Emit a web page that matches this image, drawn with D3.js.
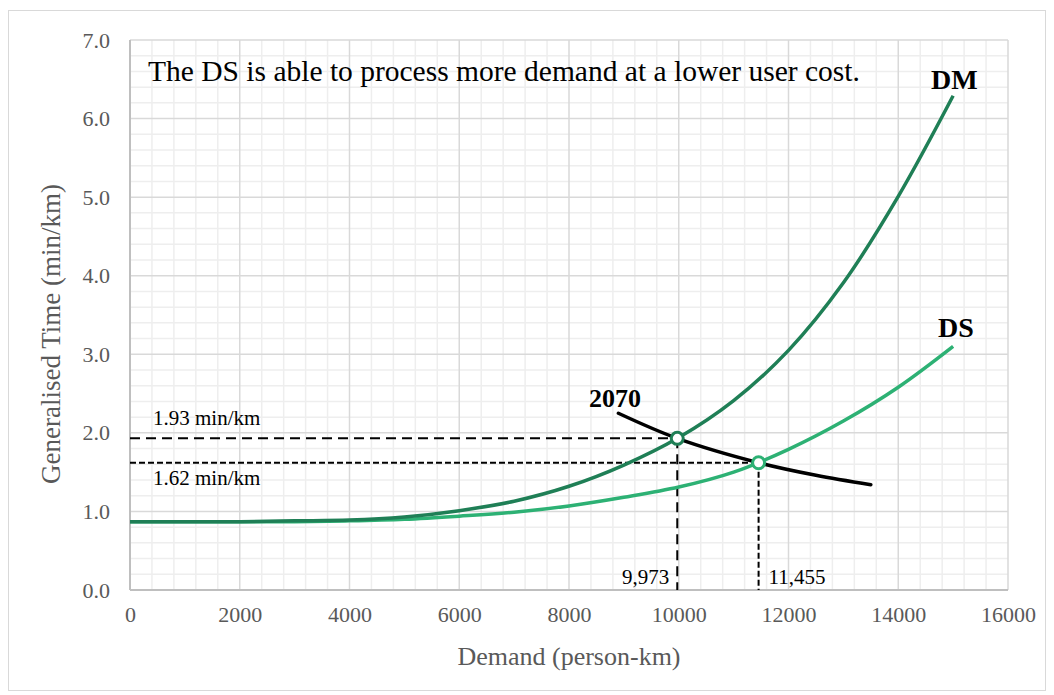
<!DOCTYPE html>
<html><head><meta charset="utf-8">
<script src="https://cdn.jsdelivr.net/npm/d3@7"></script>
<style>body{margin:0;background:#fff;}svg{display:block;font-family:"Liberation Serif","Times New Roman",serif;}</style>
</head><body><svg id="c" width="1054" height="695"></svg>
<script>
const demandX = [0,1000,2000,3000,4000,5000,6000,7000,8000,9000,10000,11000,12000,13000,14000,15000];
const dmValues = [0.87,0.87,0.87,0.88,0.89,0.93,1.01,1.13,1.32,1.59,1.94,2.41,3.05,3.91,5.01,6.29];
const dsValues = [0.87,0.87,0.87,0.87,0.88,0.90,0.94,0.99,1.07,1.18,1.31,1.50,1.79,2.15,2.58,3.10];
const demand2070X = [8900,9973,11455,12500,13500];
const demand2070Y = [2.25,1.93,1.62,1.46,1.34];
const eqDemand = [9973,11455];
const eqTime = [1.93,1.62];
const eqTimeLabels = ["1.93 min/km","1.62 min/km"];
const eqDemandLabels = ["9,973","11,455"];
const xTicks = [0,2000,4000,6000,8000,10000,12000,14000,16000];
const yTicks = [0,1,2,3,4,5,6,7];

const svg = d3.select("#c");
const L=130,R=1008,T=40,B=590;
const x = d3.scaleLinear().domain([0,16000]).range([L,R]);
const y = d3.scaleLinear().domain([0,7]).range([B,T]);

svg.append("rect").attr("x",8.5).attr("y",10.5).attr("width",1037).attr("height",680).attr("fill","#fff").attr("stroke","#d9d9d9");

const g = svg.append("g");
d3.range(0,16001,400).forEach(v=>{ if(v%2000) g.append("line").attr("x1",x(v)).attr("x2",x(v)).attr("y1",T).attr("y2",B).attr("stroke","#eeeeee").attr("stroke-width",1.5);});
d3.range(0,7.001,0.2).forEach(v=>{ if(Math.abs(v-Math.round(v))>0.01) g.append("line").attr("x1",L).attr("x2",R).attr("y1",y(v)).attr("y2",y(v)).attr("stroke","#eeeeee").attr("stroke-width",1.5);});
xTicks.forEach(v=>g.append("line").attr("x1",x(v)).attr("x2",x(v)).attr("y1",T).attr("y2",B).attr("stroke","#d9d9d9").attr("stroke-width",1.5));
yTicks.forEach(v=>g.append("line").attr("x1",L).attr("x2",R).attr("y1",y(v)).attr("y2",y(v)).attr("stroke","#d9d9d9").attr("stroke-width",1.5));
svg.append("line").attr("x1",L).attr("x2",R).attr("y1",B).attr("y2",B).attr("stroke","#bfbfbf").attr("stroke-width",2);
svg.append("line").attr("x1",L).attr("x2",L).attr("y1",T).attr("y2",B).attr("stroke","#bfbfbf").attr("stroke-width",2);

const xa = svg.append("g").attr("transform",`translate(0,${B})`).call(d3.axisBottom(x).tickValues(xTicks).tickFormat(d3.format("d")).tickSize(0).tickPadding(16));
xa.select(".domain").remove();
xa.selectAll("text").attr("font-family","Liberation Serif").attr("font-size",22).attr("fill","#595959");
const ya = svg.append("g").attr("transform",`translate(${L},0)`).call(d3.axisLeft(y).tickValues(yTicks).tickFormat(d3.format(".1f")).tickSize(0).tickPadding(20));
ya.select(".domain").remove();
ya.selectAll("text").attr("font-family","Liberation Serif").attr("font-size",22).attr("fill","#595959");

svg.append("text").attr("x",(L+R)/2).attr("y",665).attr("text-anchor","middle").attr("font-size",26).attr("fill","#595959").text("Demand (person-km)");
svg.append("text").attr("transform",`translate(60,334) rotate(-90)`).attr("text-anchor","middle").attr("font-size",27).attr("fill","#595959").text("Generalised Time (min/km)");

const dashes = ["10,6","6,3"];
eqDemand.forEach((d,i)=>{
  svg.append("line").attr("x1",x(0)).attr("x2",x(d)).attr("y1",y(eqTime[i])).attr("y2",y(eqTime[i])).attr("stroke","#000").attr("stroke-width",2).attr("stroke-dasharray",dashes[i]);
  svg.append("line").attr("x1",x(d)).attr("x2",x(d)).attr("y1",y(eqTime[i])).attr("y2",y(0)).attr("stroke","#000").attr("stroke-width",2).attr("stroke-dasharray",dashes[i]);
});

const line = d3.line().x(d=>x(d[0])).y(d=>y(d[1])).curve(d3.curveCatmullRom.alpha(0.5));
const DM="#1f7f56", DS="#2db174";
svg.append("path").attr("d",line(demandX.map((v,i)=>[v,dsValues[i]]))).attr("fill","none").attr("stroke",DS).attr("stroke-width",3.5);
svg.append("path").attr("d",line(demandX.map((v,i)=>[v,dmValues[i]]))).attr("fill","none").attr("stroke",DM).attr("stroke-width",3.5);
svg.append("path").attr("d",line(demand2070X.map((v,i)=>[v,demand2070Y[i]]))).attr("fill","none").attr("stroke","#000").attr("stroke-width",3.5).attr("stroke-linecap","round");

[DM,DS].forEach((c,i)=>{
  svg.append("circle").attr("cx",x(eqDemand[i])).attr("cy",y(eqTime[i])).attr("r",6).attr("fill","#fff").attr("stroke",c).attr("stroke-width",3);
});

svg.append("text").attr("x",153).attr("y",425).attr("font-size",21).attr("fill","#000").text(eqTimeLabels[0]);
svg.append("text").attr("x",153).attr("y",485).attr("font-size",21).attr("fill","#000").text(eqTimeLabels[1]);
svg.append("text").attr("x",x(eqDemand[0])-8).attr("y",584).attr("text-anchor","end").attr("font-size",21).text(eqDemandLabels[0]);
svg.append("text").attr("x",x(eqDemand[1])+10).attr("y",584).attr("font-size",21).text(eqDemandLabels[1]);
svg.append("text").attr("x",589).attr("y",407).attr("font-size",26).attr("font-weight","bold").text("2070");
svg.append("text").attr("x",931).attr("y",89).attr("font-size",28).attr("font-weight","bold").text("DM");
svg.append("text").attr("x",938).attr("y",337).attr("font-size",28).attr("font-weight","bold").text("DS");
svg.append("text").attr("x",148).attr("y",81).attr("font-size",29.5).text("The DS is able to process more demand at a lower user cost.");
</script></body></html>
